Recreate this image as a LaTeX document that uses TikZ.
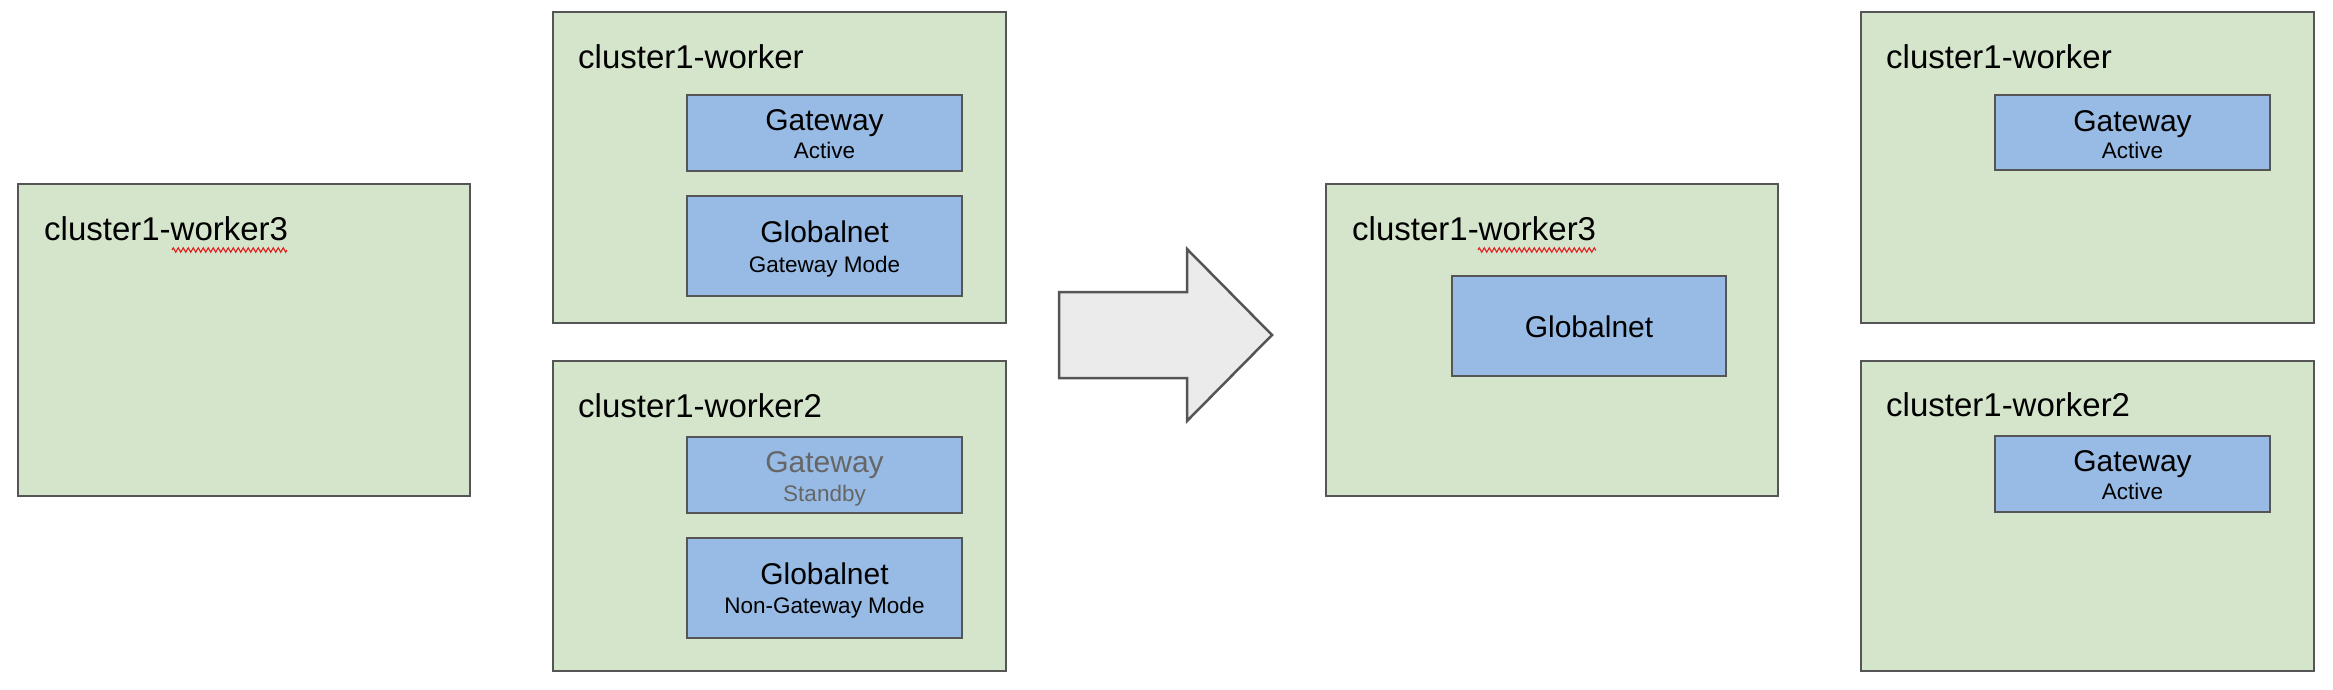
\documentclass[tikz,border=0pt]{standalone}
\usepackage{fontspec}
\setmainfont{Liberation Sans}
\usetikzlibrary{decorations.pathmorphing}
\definecolor{nodegreen}{HTML}{D5E5CC}
\definecolor{compblue}{HTML}{97BBE4}
\definecolor{edgegray}{HTML}{555555}
\definecolor{arrowfill}{HTML}{EBEBEB}
\definecolor{dimtext}{HTML}{666666}
\definecolor{squig}{HTML}{E02020}
\begin{document}
\begin{tikzpicture}[x=1pt,y=-1pt,
  hostbox/.style={draw=edgegray,line width=2.5pt,fill=nodegreen},
  compbox/.style={draw=edgegray,line width=2.5pt,fill=compblue},
  hostlabel/.style={anchor=base west,inner sep=0pt,font=\fontsize{33}{37}\selectfont},
  maintext/.style={anchor=base,inner sep=0pt,font=\fontsize{30}{34}\selectfont},
  subtext/.style={anchor=base,inner sep=0pt,font=\fontsize{22.5}{26}\selectfont},
  spell/.style={draw=squig,line width=1.1pt,decorate,decoration={zigzag,segment length=5pt,amplitude=2.2pt}}
]
\useasboundingbox (0,0) rectangle (2333,689);

% ---- left: worker3 before
\path[hostbox] (18,184) rectangle (470,496);
\node[hostlabel] (lw3) at (44,240) {cluster1-worker3};
\coordinate (sq1a) at (172,250);
\coordinate (sq1b) at (287,250);
\draw[spell] (sq1a) -- (sq1b);

% ---- middle column: worker
\path[hostbox] (553,12) rectangle (1006,323);
\node[hostlabel] (lw1) at (578,68) {cluster1-worker};
\path[compbox] (687,95) rectangle (962,171);
\node[maintext] (gw1) at (824.5,130) {Gateway};
\node[subtext] (gw1s) at (824.5,158) {Active};
\path[compbox] (687,196) rectangle (962,296);
\node[maintext] (gn1) at (824.5,242) {Globalnet};
\node[subtext] (gn1s) at (824.5,272) {Gateway Mode};

% ---- middle column: worker2
\path[hostbox] (553,361) rectangle (1006,671);
\node[hostlabel] (lw2) at (578,417) {cluster1-worker2};
\path[compbox] (687,437) rectangle (962,513);
\node[maintext,text=dimtext] (gw2) at (824.5,472) {Gateway};
\node[subtext,text=dimtext] (gw2s) at (824.5,501) {Standby};
\path[compbox] (687,538) rectangle (962,638);
\node[maintext] (gn2) at (824.5,584) {Globalnet};
\node[subtext] (gn2s) at (824.5,613) {Non-Gateway Mode};

% ---- block arrow
\path[draw=edgegray,line width=2.5pt,fill=arrowfill,line join=miter]
  (1059,292) -- (1187,292) -- (1187,249) -- (1272,335) -- (1187,421) -- (1187,378) -- (1059,378) -- cycle;

% ---- after: worker3
\path[hostbox] (1326,184) rectangle (1778,496);
\node[hostlabel] (rw3) at (1352,240) {cluster1-worker3};
\coordinate (sq2a) at (1478,250);
\coordinate (sq2b) at (1596,250);
\draw[spell] (sq2a) -- (sq2b);
\path[compbox] (1452,276) rectangle (1726,376);
\node[maintext] (gn3) at (1589,337) {Globalnet};

% ---- right column: worker
\path[hostbox] (1861,12) rectangle (2314,323);
\node[hostlabel] (rw1) at (1886,68) {cluster1-worker};
\path[compbox] (1995,95) rectangle (2270,170);
\node[maintext] (gw3) at (2132.5,131) {Gateway};
\node[subtext] (gw3s) at (2132.5,158) {Active};

% ---- right column: worker2
\path[hostbox] (1861,361) rectangle (2314,671);
\node[hostlabel] (rw2) at (1886,416) {cluster1-worker2};
\path[compbox] (1995,436) rectangle (2270,512);
\node[maintext] (gw4) at (2132.5,471) {Gateway};
\node[subtext] (gw4s) at (2132.5,499) {Active};
\end{tikzpicture}
\end{document}
